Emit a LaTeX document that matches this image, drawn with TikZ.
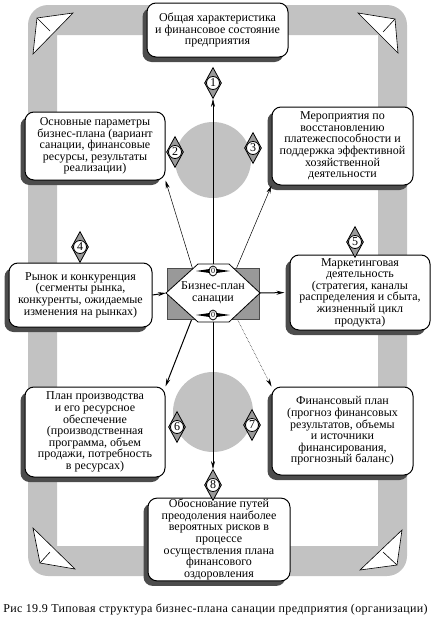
\documentclass[tikz,border=0pt]{standalone}
\usepackage{fontspec}
\setmainfont{Liberation Serif}
\newfontfamily\capfont[LetterSpace=3]{Liberation Serif}
\usepackage{xcolor}
\usetikzlibrary{positioning,shapes.geometric,shadows,arrows.meta}

\definecolor{bandgray}{gray}{0.76}
\definecolor{boxshade}{gray}{0.3}
\definecolor{rectgray}{gray}{0.6}

\begin{document}
\begin{tikzpicture}[x=1pt,y=-1pt,
        block/.style={rectangle, draw, line width=1pt, fill=white, rounded corners=9pt, align=center, inner sep=1pt,
            font=\fontsize{12}{11.6}\selectfont,
            drop shadow={shadow xshift=-4.5pt, shadow yshift=-5pt, fill=boxshade, opacity=1}},
        numdiamond/.style={diamond, draw, line width=0.8pt, fill=rectgray, inner sep=0pt, minimum width=17pt, minimum height=31pt},
        numcircle/.style={circle, draw, line width=0.8pt, fill=white, inner sep=0pt, minimum size=13pt, font=\fontsize{12}{12}\selectfont},
        linkicon/.style={ellipse, draw, line width=0.8pt, fill=white, inner sep=0pt, minimum width=8pt, minimum height=10pt, font=\fontsize{8}{8}\selectfont},
        plane/.style={draw, line width=0.6pt, fill=white},
        arrow/.style={->,>={Stealth[length=8pt,width=4pt]}}
    ]
        \useasboundingbox (0,0) rectangle (431,621);

        % frame and backdrop
        \fill[bandgray, even odd rule] [rounded corners=20pt] (28,5) rectangle (407,576) [sharp corners] (57,35) rectangle (378,546);
        \fill[bandgray] (213,160) circle (38);
        \fill[bandgray] (213,412) circle (40);

        \draw[plane] (37,18) -- (73,13) -- (33,54) -- cycle;
        \draw[line width=0.6pt] (37,18) -- (50,31);
        \draw[plane] (395,19) -- (358,13) -- (398,53) -- cycle;
        \draw[line width=0.6pt] (395,19) -- (383,32);
        \draw[plane] (33,528) -- (75,569) -- (40,563) -- cycle;
        \draw[line width=0.6pt] (40,563) -- (50,552);
        \draw[plane] (402,530) -- (360,570) -- (397,565) -- cycle;
        \draw[line width=0.6pt] (397,565) -- (383,552);

        % blocks
        \node[block, minimum width=141pt, minimum height=54pt] (general) at (217.5,30) {Общая характеристика\\и финансовое состояние\\предприятия};
        \node[block, minimum width=140pt, minimum height=68pt] (params) at (95,146) {Основные параметры\\бизнес-плана (вариант\\санации, финансовые\\ресурсы, результаты\\реализации)};
        \node[block, minimum width=141pt, minimum height=78pt] (measures) at (342.5,146) {Мероприятия по\\восстановлению\\платежеспособности и\\поддержка эффективной\\хозяйственной\\деятельности};
        \node[block, minimum width=143pt, minimum height=64pt] (market) at (80.5,295) {Рынок и конкуренция\\(сегменты рынка,\\конкуренты, ожидаемые\\изменения на рынках)};
        \node[block, minimum width=140pt, minimum height=75pt] (marketing) at (360,292.5) {Маркетинговая\\деятельность\\(стратегия, каналы\\распределения и сбыта,\\жизненный цикл\\продукта)};
        \node[block, minimum width=140pt, minimum height=90pt] (production) at (95,432) {План производства\\и его ресурсное\\обеспечение\\(производственная\\программа, объем\\продажи, потребность\\в ресурсах)};
        \node[block, minimum width=141pt, minimum height=88pt] (finplan) at (342.5,431) {Финансовый план\\(прогноз финансовых\\результатов, объемы\\и источники\\финансирования,\\прогнозный баланс)};
        \node[block, minimum width=142pt, minimum height=75pt] (risks) at (219,539.5) {Обоснование путей\\преодоления наиболее\\вероятных рисков в\\процессе\\осуществления плана\\финансового\\оздоровления};

        % numbered markers
        \node[numdiamond] (d1) at (213,83) {};  \node[numcircle] (n1) at (d1) {1};
        \node[numdiamond] (d2) at (175,152) {}; \node[numcircle] (n2) at (d2) {2};
        \node[numdiamond] (d3) at (253,148) {}; \node[numcircle] (n3) at (d3) {3};
        \node[numdiamond] (d4) at (80,247) {};  \node[numcircle] (n4) at (d4) {4};
        \node[numdiamond] (d5) at (355,242) {}; \node[numcircle] (n5) at (d5) {5};
        \node[numdiamond] (d6) at (177,427) {}; \node[numcircle] (n6) at (d6) {6};
        \node[numdiamond] (d7) at (252,425) {}; \node[numcircle] (n7) at (d7) {7};
        \node[numdiamond] (d8) at (213,485) {}; \node[numcircle] (n8) at (d8) {8};

        % connectors
        \coordinate (c) at (213,293);
        \coordinate (hl) at (166,293);
        \coordinate (hr) at (260,293);
        \draw[arrow, line width=0.6pt] (c) -- (d1.south);
        \draw[arrow, line width=0.6pt] (c) -- (d8.north);
        \draw[arrow, line width=0.5pt] ([xshift=-13pt]c) -- (params.south east);
        \draw[arrow, line width=0.5pt] ([xshift=13pt]c) -- (measures.south west);
        \draw[arrow, line width=1pt] ([xshift=-11pt]c) -- (production.north east);
        \draw[arrow, line width=0.5pt, densely dotted] ([xshift=11pt]c) -- (finplan.north west);

        % centre
        \draw[fill=rectgray, draw=boxshade, line width=0.8pt] (167,268) rectangle (259,319);
        \draw[fill=white, line width=0.8pt] (hl) -- (198,264) -- (229,264) -- (hr) -- (229,322) -- (198,322) -- cycle;
        \fill (196,271) -- (213,268.5) -- (230,271) -- (213,273.5) -- cycle;
        \fill (196,315) -- (213,312.5) -- (230,315) -- (213,317.5) -- cycle;
        \node[linkicon] (top link) at (213,271) {0};
        \node[linkicon] (bottom link) at (213,315) {0};
        \node[align=center, font=\fontsize{12}{11.6}\selectfont] (plan) at (c) {Бизнес-план\\санации};

        \draw[arrow, line width=1pt] (market.east) -- (hl);
        \draw[arrow, line width=1pt, shorten >=5pt] (hr) -- (marketing.west);

        \node[font=\capfont\fontsize{12}{12}\selectfont] (caption) at (215.5,609) {Рис 19.9 Типовая структура бизнес-плана санации предприятия (организации)};
    \end{tikzpicture}
\end{document}
